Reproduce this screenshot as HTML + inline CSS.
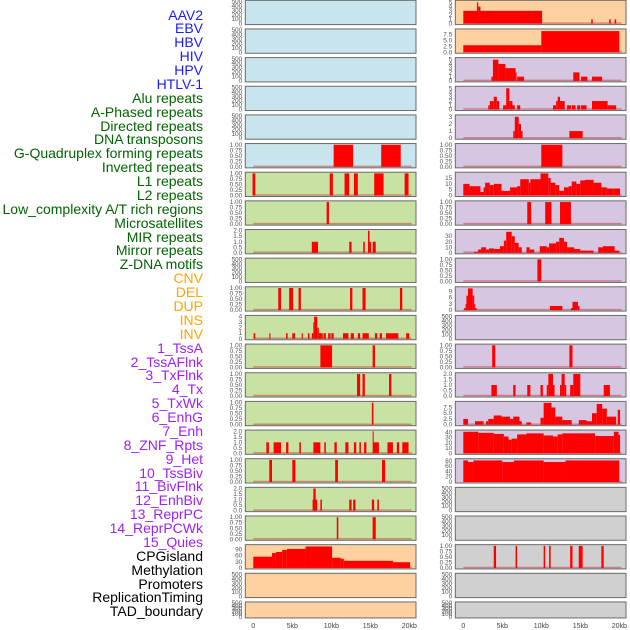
<!DOCTYPE html>
<html><head><meta charset="utf-8"><style>
html,body{margin:0;padding:0;background:#fff;}
#wrap{position:relative;width:630px;height:630px;overflow:hidden;font-family:"Liberation Sans",sans-serif;}
.lab{position:absolute;right:427px;font-size:14px;line-height:14px;white-space:nowrap;}
svg{position:absolute;left:0;top:0;}
</style></head><body>
<div id="wrap">
<div id="labels"></div>
<svg id="chart" width="630" height="630"></svg>
</div>
<script>
const labelNames=["AAV2","EBV","HBV","HIV","HPV","HTLV-1","Alu repeats","A-Phased repeats","Directed repeats","DNA transposons","G-Quadruplex forming repeats","Inverted repeats","L1 repeats","L2 repeats","Low_complexity A/T rich regions","Microsatellites","MIR repeats","Mirror repeats","Z-DNA motifs","CNV","DEL","DUP","INS","INV","1_TssA","2_TssAFlnk","3_TxFlnk","4_Tx","5_TxWk","6_EnhG","7_Enh","8_ZNF_Rpts","9_Het","10_TssBiv","11_BivFlnk","12_EnhBiv","13_ReprPC","14_ReprPCWk","15_Quies","CPGisland","Methylation","Promoters","ReplicationTiming","TAD_boundary"];
const labelColors=["#1a1aff","#1a1aff","#1a1aff","#1a1aff","#1a1aff","#1a1aff","#006400","#006400","#006400","#006400","#006400","#006400","#006400","#006400","#006400","#006400","#006400","#006400","#006400","#ffa500","#ffa500","#ffa500","#ffa500","#ffa500","#a020f0","#a020f0","#a020f0","#a020f0","#a020f0","#a020f0","#a020f0","#a020f0","#a020f0","#a020f0","#a020f0","#a020f0","#a020f0","#a020f0","#a020f0","#000","#000","#000","#000","#000"];
const xTickValues=[0,5,10,15,20];
const xTickLabels=["0","5kb","10kb","15kb","20kb"];
const T500=["0","100","200","300","400","500"], V500=[0,100,200,300,400,500];
const T1=["0.00","0.25","0.50","0.75","1.00"], V1=[0,0.25,0.5,0.75,1];
const T2=["0.0","0.5","1.0","1.5","2.0"], V2=[0,0.5,1,1.5,2];
const T75=["0.0","2.5","5.0","7.5"], V75=[0,2.5,5,7.5];
// Left column segments [startKb,endKb,value]
const segL=[
[],[],[],[],[],
[[10.3,12.8,1],[16.4,18.9,1]],
[[-0.1,0.26,1],[9.8,10.2,1],[11.7,12.3,1],[12.9,13.4,1],[15.5,16.7,1],[19.4,19.9,1]],
[[9.4,9.7,1]],
[[7.5,8.3,1],[12.3,12.6,1],[14.1,14.3,1],[14.7,14.9,2],[14.9,15.1,1],[15.3,15.7,1]],
[],
[[3.2,3.55,1],[4.6,5.1,1],[5.8,6.1,1],[12.4,12.7,1],[14.0,14.4,1],[18.8,19.1,1]],
[[0.04,0.25,1],[2.05,2.2,1],[4.2,4.4,1],[5.0,5.35,1],[6.2,6.35,1],[7.0,7.2,1],[7.5,7.7,1],[7.7,7.8,3],[7.8,8.2,4],[8.2,8.4,2],[8.4,8.9,1],[9.0,9.3,1],[9.6,9.9,1],[10.0,10.3,1],[11.5,12.2,1],[12.5,12.9,1],[13.4,13.7,1],[14.0,14.8,1],[15.6,15.9,1],[16.2,16.5,1],[17.0,18.6,1],[19.6,20.0,1]],
[[8.6,10.1,1],[15.3,15.6,1]],
[[13.3,13.7,1],[14.0,14.3,1],[17.4,17.7,1]],
[[15.2,15.4,1]],
[[1.67,2.0,1],[2.6,3.55,1],[4.2,4.5,1],[5.9,6.1,1],[7.7,8.6,1],[9.1,9.3,1],[10.4,10.7,1],[11.8,12.2,1],[12.9,13.2,1],[13.6,13.8,1],[14.2,14.5,1],[15.3,15.4,2],[15.4,16.1,1],[17.2,17.9,1],[18.4,18.7,1],[19.1,19.9,1]],
[[2.05,2.4,1],[5.0,5.4,1],[10.5,10.85,1],[16.5,16.9,1]],
[[7.6,8.2,1],[7.7,8.0,2],[8.6,8.8,1],[12.3,12.6,1],[12.8,13.1,1],[15.2,15.5,1],[15.9,16.1,1]],
[[10.7,10.9,1],[15.3,15.7,1]],
[[0,2.4,55],[2.4,2.9,73],[2.9,3.7,78],[3.7,4.3,88],[4.3,6.7,93],[6.7,10.1,105],[10.1,11.2,50],[11.2,11.6,45],[11.6,17.9,35],[17.9,20.1,28]],
[],[]];
const ymaxL=[500,500,500,500,500,1,1,1,2,500,1,4,1,1,1,2,1,2,1,108,500,500];
const tickLabL=[T500,T500,T500,T500,T500,T1,T1,T1,T2,T500,T1,["0","1","2","3","4"],T1,T1,T1,T2,T1,T2,T1,["0","30","60","90"],T500,T500];
const tickValL=[V500,V500,V500,V500,V500,V1,V1,V1,V2,V500,V1,[0,1,2,3,4],V1,V1,V1,V2,V1,V2,V1,[0,30,60,90],V500,V500];
const bgL=["#c8e4ec","#c8e4ec","#c8e4ec","#c8e4ec","#c8e4ec","#c8e4ec","#c8e2a4","#c8e2a4","#c8e2a4","#c8e2a4","#c8e2a4","#c8e2a4","#c8e2a4","#c8e2a4","#c8e2a4","#c8e2a4","#c8e2a4","#c8e2a4","#c8e2a4","#ffd0a0","#ffd0a0","#ffd0a0"];
// Right column
const segR=[
[[0,10.1,3],[1.75,1.9,5],[1.9,2.2,4],[16.4,16.6,1],[18.7,18.9,1],[19.4,19.6,1]],
[[0,10,3],[10,20,9]],
[[3.6,3.8,1],[3.8,4.5,5],[4.5,5.4,4],[5.4,6.7,3],[6.7,6.8,2],[6.9,7.8,1],[14.1,14.9,2],[15.1,15.9,1],[16.5,17.8,1]],
[[3.2,3.4,1],[3.4,3.9,2],[3.9,4.3,3],[4.3,4.6,2],[5.1,5.5,1],[5.5,5.9,5],[5.9,6.3,2],[6.3,6.6,1],[6.9,7.3,1],[11.5,11.9,1],[11.9,12.1,2],[12.1,12.4,3],[12.4,13.0,2],[13.3,13.8,1],[13.9,14.4,1],[14.6,15.0,1],[15.1,15.8,1],[16.5,18.5,2],[18.5,19.6,1]],
[[6.4,6.6,1],[6.6,7.1,3],[7.1,7.4,2],[7.4,7.6,1],[13.6,15.3,1]],
[[10.0,12.7,1]],
[[0,0.8,10],[0.8,2.2,8],[2.2,2.6,3],[2.6,2.8,7],[2.8,3.4,11],[3.4,3.9,9],[3.9,4.9,10],[4.9,6.0,4],[6.0,6.9,7],[6.9,7.3,8],[7.3,8.4,14],[8.4,8.6,11],[8.6,9.9,14],[9.9,10.9,19],[10.9,11.2,15],[11.2,11.8,11],[11.8,12.3,9],[12.3,12.9,4],[12.9,13.5,7],[13.5,13.9,8],[13.9,14.5,12],[14.5,15.0,10],[15.0,15.6,13],[15.6,16.7,13.5],[16.7,17.7,11],[17.7,18.4,7],[18.4,19.3,6],[19.3,20.1,6]],
[[8.2,8.7,1],[10.5,11.3,1],[12.4,13.8,1]],
[[1.4,1.9,2],[1.9,2.3,6],[2.3,2.9,10],[2.9,3.3,6],[3.3,3.9,8],[3.9,4.7,7],[4.7,5.2,12],[5.2,5.5,22],[5.5,6.2,38],[6.2,6.6,30],[6.6,7.1,18],[7.1,7.5,10],[8.1,8.5,10],[8.5,9.1,6],[9.8,10.7,12],[10.7,11.0,10],[11.0,11.9,17],[11.9,12.3,20],[12.3,12.9,27],[12.9,13.3,20],[13.3,14.2,10],[14.2,15.0,7],[15.0,16.7,4],[17.3,17.9,10],[17.9,19.4,12],[19.4,20.0,4]],
[[9.5,10.0,1]],
[[0.1,0.3,1],[0.3,0.4,3],[0.4,0.6,7],[0.6,1.2,10.5],[1.2,1.4,7],[1.4,1.5,3],[1.5,1.7,1],[11.1,12.7,2],[13.8,14.0,1],[14.0,14.7,4],[14.7,14.9,2]],
[],
[[3.7,4.1,1],[13.6,14.0,1]],
[[3.6,4.3,1],[6.4,6.7,1],[8.2,8.6,1],[9.9,10.2,1],[10.7,10.9,1],[10.9,11.5,2],[11.5,11.7,1],[12.4,12.6,1],[12.6,13.0,2],[13.0,13.2,1],[13.7,14.1,1],[14.1,15.0,2],[18.0,18.8,1]],
[[0,0.6,2.5],[1.5,2.6,1.5],[2.9,3.2,1.5],[3.2,3.9,2.5],[3.9,4.9,4],[4.9,6.0,3.5],[6.0,6.4,2.5],[6.4,7.2,3.5],[7.2,7.5,1.5],[8.1,8.7,1],[9.9,10.3,3],[10.3,11.3,9.5],[11.3,11.8,7.5],[11.8,12.7,3.5],[12.7,13.9,2],[14.8,15.8,2],[15.8,16.5,1.5],[16.5,17.1,5],[17.1,17.8,9],[17.8,18.4,7],[18.4,19.6,3.5],[19.8,20.1,6.5]],
[[0,1.9,41],[1.9,3.9,39],[3.9,5.2,37],[5.2,5.8,32],[5.8,6.2,26],[6.2,6.9,28],[6.9,8.1,36],[8.1,10.3,38],[10.3,11.5,34],[11.5,12.1,32],[12.1,12.7,36],[12.7,16.9,38],[16.9,19.3,33],[19.3,19.9,41],[19.9,20.1,35]],
[[0,0.6,82],[0.6,1.3,76],[1.3,5.0,82],[5.0,6.5,76],[6.5,10.3,82],[10.3,13.1,76],[13.1,20.0,82]],
[],[],
[[3.9,4.2,1],[6.7,6.9,1],[10.3,10.5,1],[11.0,11.2,1],[13.7,14.0,1],[14.8,15.3,1],[17.7,18.0,1]],
[],[]];
const ymaxR=[5.2,9.4,5.2,5.2,3.1,1,19,1,40,1,10.7,500,1,2,9.6,42,84,500,500,1,500,500];
const tickLabR=[["0","1","2","3","4","5"],T75,["0","1","2","3","4","5"],["0","1","2","3","4","5"],["0","1","2","3"],T1,["0","5","10","15"],T1,["0","10","20","30"],T1,["0","3","6","9"],T500,T1,T2,T75,["0","10","20","30","40"],["0","20","40","60","80"],T500,T500,T1,T500,T500];
const tickValR=[[0,1,2,3,4,5],V75,[0,1,2,3,4,5],[0,1,2,3,4,5],[0,1,2,3],V1,[0,5,10,15],V1,[0,10,20,30],V1,[0,3,6,9],V500,V1,V2,V75,[0,10,20,30,40],[0,20,40,60,80],V500,V500,V1,V500,V500];
const bgR=["#ffd0a0","#ffd0a0","#d6c6e2","#d6c6e2","#d6c6e2","#d6c6e2","#d6c6e2","#d6c6e2","#d6c6e2","#d6c6e2","#d6c6e2","#d6c6e2","#d6c6e2","#d6c6e2","#d6c6e2","#d6c6e2","#d6c6e2","#d0d0d0","#d0d0d0","#d0d0d0","#d0d0d0","#d0d0d0"];

const NS="http://www.w3.org/2000/svg";
const svg=document.getElementById('chart');
const labs=document.getElementById('labels');
labelNames.forEach((n,i)=>{
  const d=document.createElement('div');
  d.className='lab';
  
  
  d.style.top=(15+13.88*i-7.5)+'px';
  d.style.color=labelColors[i];
  d.textContent=n;
  labs.appendChild(d);
});
function mk(tag,attrs){const e=document.createElementNS(NS,tag);for(const k in attrs)e.setAttribute(k,attrs[k]);return e;}
function xScale(colX0,kb){return colX0+8+7.8*kb;}
function drawCol(colX0,segs,ymaxs,tl,tv,bgs,side){
  for(let i=0;i<22;i++){
    const top=28.65*i+0.3, h=(i===21?16:24.3), w=170.7;
    const g=mk('g',{});
    
    
    const bg=mk('rect',{x:colX0,y:top,width:w,height:h,fill:bgs[i],stroke:'#6a6a6a','stroke-width':1});
    
    
    g.appendChild(bg);
    const yb=top+h-1, yt=top+1.2;
    const ys=v=>yb-(v/ymaxs[i])*(yb-yt);
    tv[i].forEach((v,k)=>{
      const t=mk('text',{x:colX0-3,y:ys(v)+2,'font-size':6.5,fill:'#555','text-anchor':'end','font-family':'Liberation Sans, sans-serif'});
      
      
      t.textContent=tl[i][k];
      g.appendChild(t);
    });
    if(segs[i].length){
      const bl=mk('line',{x1:xScale(colX0,0),x2:xScale(colX0,20.3),y1:yb-0.5,y2:yb-0.5,stroke:'rgba(190,40,40,0.45)','stroke-width':1.5});
      
      
      g.appendChild(bl);
    }
    segs[i].forEach(s=>{
      const x1=xScale(colX0,s[0]),x2=xScale(colX0,s[1]);
      const r=mk('rect',{x:x1,y:ys(s[2]),width:Math.max(1,x2-x1),height:yb-ys(s[2]),fill:'#ff0000'});
      
      
      g.appendChild(r);
    });
    svg.appendChild(g);
  }
  xTickValues.forEach((v,k)=>{
    const t=mk('text',{x:xScale(colX0,v),y:628,'font-size':7,fill:'#444','text-anchor':'middle','font-family':'Liberation Sans, sans-serif'});
    
    
    t.textContent=xTickLabels[k];
    svg.appendChild(t);
  });
}
drawCol(245.3,segL,ymaxL,tickLabL,tickValL,bgL,'left');
drawCol(455.3,segR,ymaxR,tickLabR,tickValR,bgR,'right');
</script>
</body></html>
